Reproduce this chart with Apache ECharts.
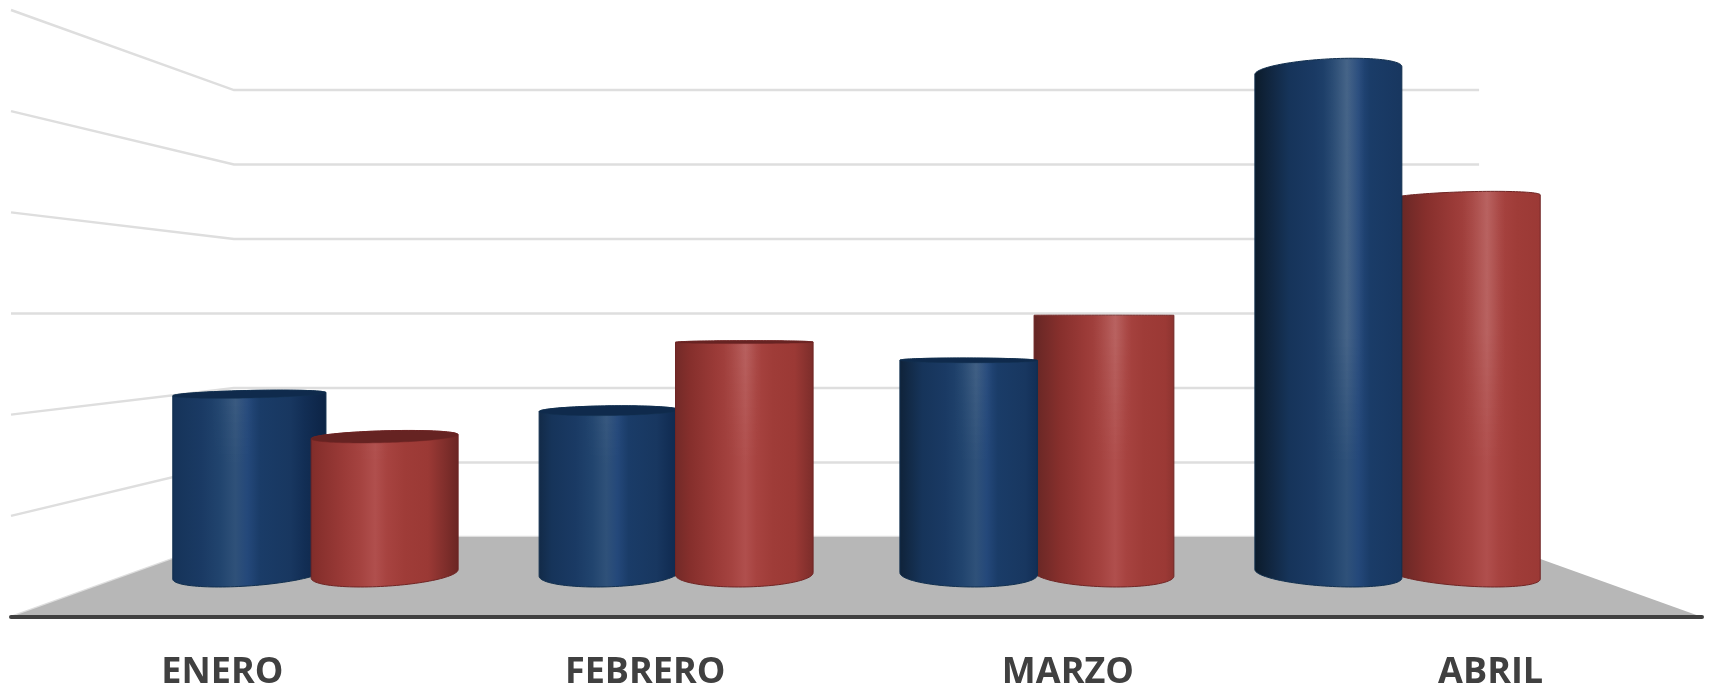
<!DOCTYPE html>
<html>
<head>
<meta charset="utf-8">
<style>html,body{margin:0;padding:0;background:#fff}#c{width:1714px;height:691px}</style>
<script src="https://cdn.jsdelivr.net/npm/echarts@6/dist/echarts.min.js"></script>
</head>
<body>
<div id="c"></div>
<script>
const categories = ['ENERO', 'FEBRERO', 'MARZO', 'ABRIL'];
const serieAzul = [2.07, 1.88, 2.46, 5.80];
const serieRoja = [1.58, 2.67, 2.98, 4.34];
const niveles = [0, 1, 2, 3, 4, 5, 6];

// Camera of the 3D scene, in pixels of the front plane
const FOCAL = 1349, DEPTH_BACK = 483, DEPTH_BAR = 228, RADIUS = 80, BAR_SHIFT = 79.5, EYE_LEVEL = 3;

const RAMPS = {
  azul: {
    edge: '#12304f', top: '#0f2a4c',
    stops: [[-1,'#08131f'],[-0.64,'#0b1a28'],[-0.54,'#10243c'],[-0.39,'#16345a'],[-0.22,'#1a3a64'],[-0.1,'#21446e'],[0,'#2f5179'],[0.08,'#24487a'],[0.16,'#1a3c68'],[0.36,'#183760'],[0.45,'#122e55'],[0.6,'#0c2344'],[1,'#081a34']]
  },
  roja: {
    edge: '#6f2524', top: '#662322',
    stops: [[-1,'#351312'],[-0.68,'#4a1c1b'],[-0.55,'#6b2826'],[-0.4,'#862f2c'],[-0.22,'#9a3a37'],[-0.1,'#a54340'],[0,'#b04f4d'],[0.08,'#a74340'],[0.2,'#9f3c38'],[0.36,'#9b3935'],[0.48,'#7f2e2b'],[0.62,'#5e201e'],[1,'#451715']]
  }
};

let vanishX = 0;
function camera(api) {
  const vy = api.coord([0, EYE_LEVEL])[1];
  return function (frontX, frontY, z) {
    const s = FOCAL / (FOCAL + z);
    return [vanishX + s * (frontX - vanishX), vy + s * (frontY - vy)];
  };
}
function hull(pts) {
  const p = pts.slice().sort((a, b) => a[0] - b[0] || a[1] - b[1]);
  const cross = (o, a, b) => (a[0]-o[0])*(b[1]-o[1]) - (a[1]-o[1])*(b[0]-o[0]);
  const lo = [], up = [];
  for (const q of p) { while (lo.length > 1 && cross(lo[lo.length-2], lo[lo.length-1], q) <= 0) lo.pop(); lo.push(q); }
  for (let i = p.length-1; i >= 0; i--) { const q = p[i]; while (up.length > 1 && cross(up[up.length-2], up[up.length-1], q) <= 0) up.pop(); up.push(q); }
  return lo.slice(0,-1).concat(up.slice(0,-1));
}
function circle(project, cx, frontY, rx) {
  const out = [];
  for (let i = 0; i < 120; i++) {
    const a = i / 120 * Math.PI * 2;
    out.push(project(cx + rx * Math.cos(a), frontY, DEPTH_BAR + RADIUS * Math.sin(a)));
  }
  return out;
}

function cylinder(ramp, side) {
  return function (params, api) {
    vanishX = params.coordSys.x + params.coordSys.width / 2;
    const project = camera(api);
    const cat = api.value(0), val = api.value(1);
    const base = api.coord([cat, 0]), tip = api.coord([cat, val]);
    const cx = vanishX + (base[0] + side * BAR_SHIFT - vanishX) * 0.992;
    const spread = (cx - vanishX) / 800;
    const rx = RADIUS * (1 + 0.03 * spread * spread);
    const bottom = circle(project, cx, base[1], rx);
    const top = circle(project, cx, tip[1], rx);
    const all = bottom.concat(top);
    const x0 = Math.min.apply(null, all.map(p => p[0]));
    const x1 = Math.max.apply(null, all.map(p => p[0]));
    const w = x1 - x0;
    const off = (x0 + x1) / 2 - vanishX;
    const h = 0.53 + off * 0.0002;
    const fill = {
      type: 'linear', global: true, x: x0 + (h - 1) * w, y: 0, x2: x0 + (h + 1) * w, y2: 0,
      colorStops: ramp.stops.map(s => ({ offset: (s[0] + 1) / 2, color: s[1] }))
    };
    const z2 = 2000 - Math.round(Math.abs(off)) * 2;
    const kids = [{
      type: 'polygon', z2: z2, shape: { points: hull(all) },
      style: { fill: fill, stroke: ramp.edge, lineWidth: 1 }
    }];
    // brighter highlight toward the upper part of the tall bars
    const bx0 = x0 + (h - 0.16) * w, bx1 = x0 + (h + 0.12) * w;
    const glow = {
      type: 'linear', global: true, x: bx0, y: 0, x2: bx1, y2: 0,
      colorStops: [{offset:0,color:'rgba(255,255,255,0)'},{offset:0.35,color:'rgba(255,255,255,0.55)'},{offset:0.58,color:'rgba(255,255,255,1)'},{offset:1,color:'rgba(255,255,255,0)'}]
    };
    const nearArc = top.filter((p, i) => i > 60 && p[0] > bx0 && p[0] < bx1).map(p => p[1]);
    const startY = Math.max.apply(null, nearArc);
    const fadeA = 330, fadeB = 460, step = 8;
    for (let y = startY; y < base[1] - 20 && y < fadeB; y += step) {
      const a = y < fadeA ? 0.11 : 0.11 * (fadeB - y) / (fadeB - fadeA);
      kids.push({
        type: 'rect', z2: z2, shape: { x: bx0, y: y, width: bx1 - bx0, height: step },
        style: { fill: glow, opacity: a }
      });
    }
    // the top face only shows when the bar ends below eye level
    if (top[30][1] < top[90][1] - 0.5) {
      kids.push({ type: 'polygon', z2: z2 + 1, shape: { points: hull(top) }, style: { fill: ramp.top, stroke: ramp.edge, lineWidth: 0.5 } });
    }
    return { type: 'group', children: kids };
  };
}

function wall(params, api) {
  vanishX = params.coordSys.x + params.coordSys.width / 2;
  const project = camera(api);
  const sys = params.coordSys;
  const y = api.coord([0, api.value(1)])[1];
  const a = [sys.x, y], b = project(sys.x, y, DEPTH_BACK), c = project(sys.x + sys.width, y, DEPTH_BACK);
  return { type: 'polyline', shape: { points: [a, b, c] }, style: { fill: 'none', stroke: '#dedede', lineWidth: 2.4 } };
}
function floor(params, api) {
  vanishX = params.coordSys.x + params.coordSys.width / 2;
  const project = camera(api);
  const sys = params.coordSys;
  const y = api.coord([0, 0])[1];
  return {
    type: 'polygon',
    shape: { points: [[sys.x, y], project(sys.x, y, DEPTH_BACK), project(sys.x + sys.width, y, DEPTH_BACK), [sys.x + sys.width, y]] },
    style: { fill: '#b7b7b7' }
  };
}

const chart = echarts.init(document.getElementById('c'), null, { renderer: 'canvas' });
chart.setOption({
  animation: false,
  backgroundColor: '#ffffff',
  grid: { left: 11, right: 12, top: 10, bottom: 73, containLabel: false },
  xAxis: {
    type: 'category', data: categories, z: 5,
    axisTick: { show: false },
    axisLine: { lineStyle: { color: '#404040', width: 4, cap: 'round' } },
    axisLabel: { color: '#404040', fontFamily: 'Open Sans', fontWeight: 'bold', fontSize: 36, margin: 38 }
  },
  yAxis: { type: 'value', min: 0, max: 6, interval: 1, show: false, splitLine: { show: false } },
  series: [
    { type: 'custom', name: 'Paredes', z: 1, silent: true, clip: false, data: niveles.map(v => [0, v]), renderItem: wall },
    { type: 'custom', name: 'Piso', z: 1, silent: true, clip: false, data: [[0, 0]], renderItem: floor },
    { type: 'custom', name: 'Serie 1', z: 3, silent: true, clip: false, data: serieAzul.map((v, i) => [i, v]), encode: { x: 0, y: 1 }, renderItem: cylinder(RAMPS.azul, -1) },
    { type: 'custom', name: 'Serie 2', z: 3, silent: true, clip: false, data: serieRoja.map((v, i) => [i, v]), encode: { x: 0, y: 1 }, renderItem: cylinder(RAMPS.roja, 1) }
  ]
});
</script>
</body>
</html>
